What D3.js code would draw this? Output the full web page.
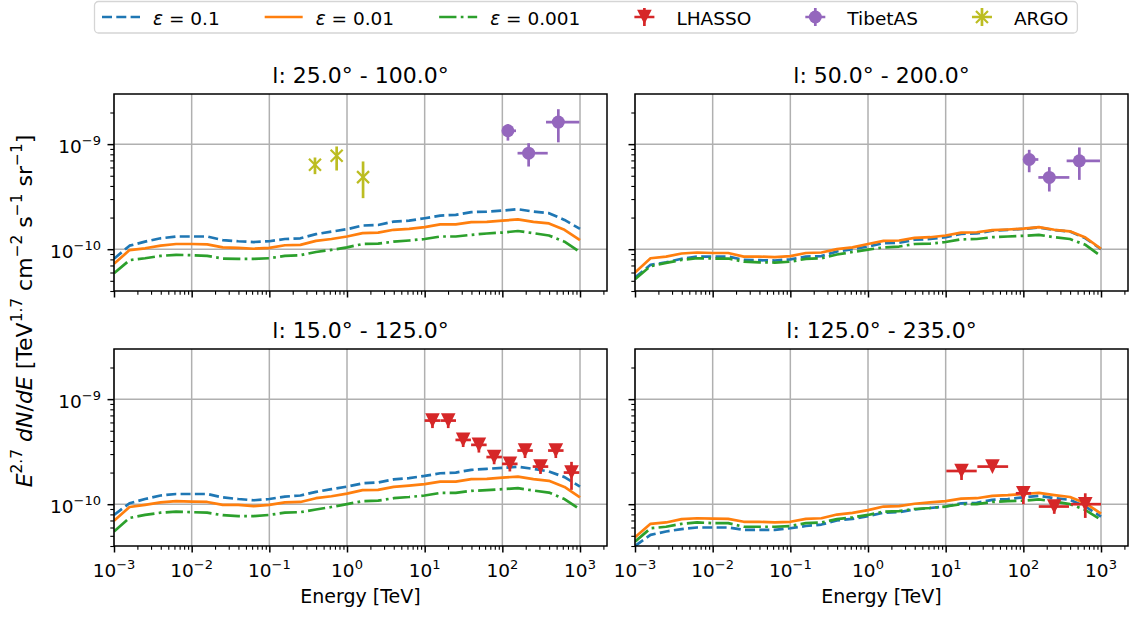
<!DOCTYPE html>
<html>
<head>
<meta charset="utf-8">
<script src="https://cdn.jsdelivr.net/npm/d3@7"></script>
<style>
  body { margin: 0; background: #fff; }
  svg { font-family: "DejaVu Sans", sans-serif; }
</style>
</head>
<body>
<svg id="chart" width="1129" height="619"></svg>
<script>
// ---------------------------------------------------------------------------
// Data

const energy = [0.001, 0.001585, 0.002512, 0.003981, 0.00631, 0.01, 0.01585, 0.02512, 0.03981, 0.0631,
  0.1, 0.1585, 0.2512, 0.3981, 0.631, 1, 1.585, 2.512, 3.981, 6.31,
  10, 15.85, 25.12, 39.81, 63.1, 100, 158.5, 251.2, 398.1, 631, 1000];

const panelTitles = ["l: 25.0° - 100.0°", "l: 50.0° - 200.0°", "l: 15.0° - 125.0°", "l: 125.0° - 235.0°"];
const seriesLabels = ["0.1", "0.01", "0.001"];

// l: 25 - 100
const p1Eps1 = [8.1e-11, 1.08e-10, 1.18e-10, 1.27e-10, 1.32e-10, 1.32e-10, 1.32e-10, 1.22e-10, 1.19e-10, 1.17e-10, 1.19e-10, 1.25e-10, 1.27e-10, 1.39e-10, 1.47e-10, 1.55e-10, 1.68e-10, 1.70e-10, 1.83e-10, 1.87e-10, 1.97e-10, 2.09e-10, 2.12e-10, 2.25e-10, 2.28e-10, 2.33e-10, 2.40e-10, 2.28e-10, 2.20e-10, 1.90e-10, 1.56e-10];
const p1Eps2 = [7.25e-11, 9.8e-11, 1.02e-10, 1.08e-10, 1.12e-10, 1.12e-10, 1.11e-10, 1.04e-10, 1.03e-10, 1.01e-10, 1.03e-10, 1.09e-10, 1.10e-10, 1.20e-10, 1.25e-10, 1.32e-10, 1.42e-10, 1.44e-10, 1.53e-10, 1.56e-10, 1.62e-10, 1.72e-10, 1.72e-10, 1.81e-10, 1.82e-10, 1.87e-10, 1.92e-10, 1.82e-10, 1.76e-10, 1.53e-10, 1.22e-10];
const p1Eps3 = [5.9e-11, 7.86e-11, 8.2e-11, 8.64e-11, 8.83e-11, 8.77e-11, 8.64e-11, 8.15e-11, 8.1e-11, 8.1e-11, 8.2e-11, 8.64e-11, 8.77e-11, 9.4e-11, 9.85e-11, 1.04e-10, 1.12e-10, 1.13e-10, 1.18e-10, 1.21e-10, 1.25e-10, 1.32e-10, 1.32e-10, 1.37e-10, 1.41e-10, 1.44e-10, 1.49e-10, 1.42e-10, 1.35e-10, 1.18e-10, 9.4e-11];

// l: 50 - 200
const p2Eps1 = [5.37e-11, 7.1e-11, 7.5e-11, 8.1e-11, 8.5e-11, 8.5e-11, 8.5e-11, 7.9e-11, 7.86e-11, 7.8e-11, 8.0e-11, 8.5e-11, 8.6e-11, 9.5e-11, 1.0e-10, 1.06e-10, 1.14e-10, 1.15e-10, 1.23e-10, 1.25e-10, 1.30e-10, 1.40e-10, 1.41e-10, 1.50e-10, 1.53e-10, 1.56e-10, 1.61e-10, 1.52e-10, 1.47e-10, 1.27e-10, 1.0e-10];
const p2Eps2 = [6.0e-11, 8.2e-11, 8.5e-11, 9.1e-11, 9.3e-11, 9.2e-11, 9.2e-11, 8.5e-11, 8.5e-11, 8.4e-11, 8.6e-11, 9.2e-11, 9.3e-11, 1.0e-10, 1.04e-10, 1.12e-10, 1.2e-10, 1.21e-10, 1.28e-10, 1.30e-10, 1.35e-10, 1.44e-10, 1.45e-10, 1.52e-10, 1.54e-10, 1.57e-10, 1.62e-10, 1.53e-10, 1.48e-10, 1.29e-10, 1.01e-10];
const p2Eps3 = [5.18e-11, 6.9e-11, 7.4e-11, 7.9e-11, 8.2e-11, 8.15e-11, 8.15e-11, 7.6e-11, 7.5e-11, 7.46e-11, 7.6e-11, 8.1e-11, 8.2e-11, 8.9e-11, 9.4e-11, 9.9e-11, 1.04e-10, 1.06e-10, 1.12e-10, 1.13e-10, 1.17e-10, 1.24e-10, 1.25e-10, 1.30e-10, 1.32e-10, 1.34e-10, 1.37e-10, 1.30e-10, 1.25e-10, 1.10e-10, 8.6e-11];

// l: 15 - 125
const p3Eps1 = [7.9e-11, 1.02e-10, 1.12e-10, 1.21e-10, 1.25e-10, 1.25e-10, 1.25e-10, 1.16e-10, 1.12e-10, 1.09e-10, 1.12e-10, 1.18e-10, 1.21e-10, 1.31e-10, 1.39e-10, 1.47e-10, 1.58e-10, 1.61e-10, 1.72e-10, 1.77e-10, 1.86e-10, 1.97e-10, 2.0e-10, 2.12e-10, 2.17e-10, 2.22e-10, 2.27e-10, 2.17e-10, 2.05e-10, 1.81e-10, 1.47e-10];
const p3Eps2 = [6.94e-11, 9.4e-11, 9.85e-11, 1.04e-10, 1.07e-10, 1.06e-10, 1.05e-10, 9.85e-11, 9.85e-11, 9.6e-11, 9.85e-11, 1.04e-10, 1.05e-10, 1.14e-10, 1.19e-10, 1.26e-10, 1.36e-10, 1.37e-10, 1.46e-10, 1.50e-10, 1.55e-10, 1.64e-10, 1.64e-10, 1.73e-10, 1.74e-10, 1.79e-10, 1.83e-10, 1.73e-10, 1.67e-10, 1.46e-10, 1.16e-10];
const p3Eps3 = [5.5e-11, 7.4e-11, 7.9e-11, 8.3e-11, 8.5e-11, 8.4e-11, 8.3e-11, 7.86e-11, 7.7e-11, 7.7e-11, 7.9e-11, 8.3e-11, 8.4e-11, 8.9e-11, 9.4e-11, 1.0e-10, 1.07e-10, 1.08e-10, 1.14e-10, 1.17e-10, 1.21e-10, 1.28e-10, 1.28e-10, 1.34e-10, 1.36e-10, 1.39e-10, 1.42e-10, 1.35e-10, 1.29e-10, 1.12e-10, 8.9e-11];

// l: 125 - 235
const p4Eps1 = [4.0e-11, 5.1e-11, 5.5e-11, 5.8e-11, 6.0e-11, 6.0e-11, 6.0e-11, 5.7e-11, 5.7e-11, 5.7e-11, 5.9e-11, 6.2e-11, 6.4e-11, 7.0e-11, 7.25e-11, 7.7e-11, 8.3e-11, 8.4e-11, 8.9e-11, 9.2e-11, 9.5e-11, 1.02e-10, 1.03e-10, 1.10e-10, 1.12e-10, 1.16e-10, 1.20e-10, 1.14e-10, 1.10e-10, 9.5e-11, 7.6e-11];
const p4Eps2 = [4.85e-11, 6.5e-11, 6.7e-11, 7.2e-11, 7.35e-11, 7.3e-11, 7.25e-11, 6.8e-11, 6.8e-11, 6.7e-11, 6.8e-11, 7.25e-11, 7.35e-11, 7.97e-11, 8.27e-11, 8.77e-11, 9.5e-11, 9.6e-11, 1.01e-10, 1.04e-10, 1.07e-10, 1.13e-10, 1.14e-10, 1.20e-10, 1.22e-10, 1.25e-10, 1.28e-10, 1.22e-10, 1.17e-10, 1.02e-10, 8.15e-11];
const p4Eps3 = [4.4e-11, 5.9e-11, 6.1e-11, 6.5e-11, 6.7e-11, 6.6e-11, 6.6e-11, 6.1e-11, 6.1e-11, 6.1e-11, 6.2e-11, 6.6e-11, 6.7e-11, 7.2e-11, 7.5e-11, 7.9e-11, 8.5e-11, 8.6e-11, 9.0e-11, 9.2e-11, 9.5e-11, 1.0e-10, 1.0e-10, 1.05e-10, 1.07e-10, 1.08e-10, 1.11e-10, 1.06e-10, 1.0e-10, 8.8e-11, 7.1e-11];

// ARGO (panel l: 25 - 100)
const argoE = [0.387, 0.736, 1.61];
const argoF = [6.36e-10, 7.74e-10, 4.85e-10];
const argoFlo = [5.18e-10, 5.61e-10, 3.06e-10];
const argoFhi = [7.46e-10, 9.5e-10, 6.84e-10];

// TibetAS (panels l: 25 - 100 and l: 50 - 200)
const tibet1E = [118, 218, 526];
const tibet1Elo = [101, 157, 365];
const tibet1Ehi = [150, 384, 980];
const tibet1F = [1.34e-9, 8.2e-10, 1.62e-9];
const tibet1Flo = [1.08e-9, 6.12e-10, 1.04e-9];
const tibet1Fhi = [1.55e-9, 1.02e-9, 2.15e-9];

const tibet2E = [119, 216, 526];
const tibet2Elo = [100, 156, 361];
const tibet2Ehi = [156, 391, 970];
const tibet2F = [7.14e-10, 4.82e-10, 6.93e-10];
const tibet2Flo = [5.4e-10, 3.54e-10, 4.57e-10];
const tibet2Fhi = [8.83e-10, 6.04e-10, 9.3e-10];

// LHASSO (panels l: 15 - 125 and l: 125 - 235)
const lhasso3E = [12.6, 20.1, 31.3, 49.9, 78.4, 125, 196, 310, 488, 777];
const lhasso3Elo = [10.0, 16.0, 24.9, 39.6, 62.3, 99, 156, 246, 388, 617];
const lhasso3Ehi = [15.9, 25.3, 39.4, 62.8, 98.7, 157, 247, 390, 614, 978];
const lhasso3F = [6.25e-10, 6.25e-10, 4.09e-10, 3.67e-10, 2.81e-10, 2.42e-10, 3.24e-10, 2.28e-10, 3.24e-10, 2.0e-10];
const lhasso3Flo = [5.3e-10, 5.3e-10, 3.5e-10, 3.1e-10, 2.4e-10, 2.05e-10, 2.75e-10, 1.94e-10, 2.75e-10, 1.37e-10];
const lhasso3Fhi = [6.9e-10, 6.9e-10, 4.5e-10, 4.0e-10, 3.1e-10, 2.65e-10, 3.55e-10, 2.5e-10, 3.55e-10, 2.53e-10];

const lhasso4E = [16, 40, 100, 250, 627];
const lhasso4Elo = [10.2, 25.6, 80, 158, 410];
const lhasso4Ehi = [25.1, 63.7, 126, 387, 1000];
const lhasso4F = [2.07e-10, 2.28e-10, 1.27e-10, 9.5e-11, 1.0e-10];
const lhasso4Flo = [1.70e-10, 2.1e-10, 1.0e-10, 8.1e-11, 7.4e-11];
const lhasso4Fhi = [2.3e-10, 2.45e-10, 1.47e-10, 1.08e-10, 1.27e-10];

// ---------------------------------------------------------------------------
// Layout / style

const PW = 493, PH = 197;
const panelPos = [[114, 94], [635, 94], [114, 349], [635, 349]];
const colors = { blue: "#1f77b4", orange: "#ff7f0e", green: "#2ca02c", red: "#d62728", purple: "#9467bd", olive: "#bcbd22" };
const LW = 2.7;
const curveStyles = [
  { color: colors.blue, dash: "10,4.3" },
  { color: colors.orange, dash: null },
  { color: colors.green, dash: "17.3,4.3,2.7,4.3" }
];

const svg = d3.select("#chart");

const x = d3.scaleLog().domain([1e-3, 2226]).range([0, PW]);
const y = d3.scaleLog().domain([4e-11, 3e-9]).range([PH, 0]);

const xMajor = [1e-3, 1e-2, 1e-1, 1, 10, 100, 1000];
const yMajor = [1e-10, 1e-9];
const xMinor = [];
for (let p = -3; p <= 3; p++) for (let m = 2; m <= 9; m++) {
  const v = m * Math.pow(10, p);
  if (v <= x.domain()[1]) xMinor.push(v);
}
const yMinor = [];
for (let p = -11; p <= -9; p++) for (let m = 2; m <= 9; m++) {
  const v = m * Math.pow(10, p);
  if (v >= y.domain()[0] && v <= y.domain()[1]) yMinor.push(v);
}

svg.append("defs").append("clipPath").attr("id", "plotclip")
  .append("rect").attr("width", PW).attr("height", PH);

const zipPts = (xs, fs, flo, fhi, elo, ehi) => xs.map((e, i) => ({
  e, f: fs[i], flo: flo[i], fhi: fhi[i],
  elo: elo ? elo[i] : null, ehi: ehi ? ehi[i] : null
}));

const panels = [
  { curves: [p1Eps1, p1Eps2, p1Eps3],
    tibet: zipPts(tibet1E, tibet1F, tibet1Flo, tibet1Fhi, tibet1Elo, tibet1Ehi),
    argo: zipPts(argoE, argoF, argoFlo, argoFhi) },
  { curves: [p2Eps1, p2Eps2, p2Eps3],
    tibet: zipPts(tibet2E, tibet2F, tibet2Flo, tibet2Fhi, tibet2Elo, tibet2Ehi) },
  { curves: [p3Eps1, p3Eps2, p3Eps3],
    lhasso: zipPts(lhasso3E, lhasso3F, lhasso3Flo, lhasso3Fhi, lhasso3Elo, lhasso3Ehi) },
  { curves: [p4Eps1, p4Eps2, p4Eps3],
    lhasso: zipPts(lhasso4E, lhasso4F, lhasso4Flo, lhasso4Fhi, lhasso4Elo, lhasso4Ehi) }
];

// "10^n" label built from tspans
function powLabel(sel, exp) {
  sel.append("tspan").text("10");
  sel.append("tspan").attr("dy", -8.3).attr("font-size", 13)
    .text(exp < 0 ? "\u2212" + (-exp) : String(exp));
}

function triDown(s) {
  return `M${-s},${-s}L${s},${-s}L0,${s}Z`;
}

function drawErrorbars(g, pts, color) {
  const eb = g.append("g").attr("stroke", color).attr("stroke-width", LW);
  eb.selectAll("line.v").data(pts).join("line")
    .attr("x1", d => x(d.e)).attr("x2", d => x(d.e))
    .attr("y1", d => y(d.flo)).attr("y2", d => y(d.fhi));
  eb.selectAll("line.h").data(pts.filter(d => d.elo !== null)).join("line")
    .attr("x1", d => x(d.elo)).attr("x2", d => x(d.ehi))
    .attr("y1", d => y(d.f)).attr("y2", d => y(d.f));
}

panels.forEach((p, idx) => {
  const [left, top] = panelPos[idx];
  const isBottom = idx >= 2, isLeft = idx % 2 === 0;
  const g = svg.append("g").attr("transform", `translate(${left},${top})`);

  // grid
  g.append("g").selectAll("line").data(xMajor).join("line")
    .attr("x1", d => x(d)).attr("x2", d => x(d)).attr("y1", 0).attr("y2", PH)
    .attr("stroke", "#b0b0b0").attr("stroke-width", 1.5);
  g.append("g").selectAll("line").data(yMajor).join("line")
    .attr("y1", d => y(d)).attr("y2", d => y(d)).attr("x1", 0).attr("x2", PW)
    .attr("stroke", "#b0b0b0").attr("stroke-width", 1.5);

  // model curves
  const line = d3.line().x(d => x(d[0])).y(d => y(d[1]));
  const cg = g.append("g").attr("clip-path", "url(#plotclip)");
  p.curves.forEach((vals, k) => {
    cg.append("path")
      .attr("d", line(d3.zip(energy, vals)))
      .attr("fill", "none")
      .attr("stroke", curveStyles[k].color)
      .attr("stroke-width", LW)
      .attr("stroke-dasharray", curveStyles[k].dash)
      .attr("stroke-linejoin", "round");
  });

  // measurements
  if (p.lhasso) {
    drawErrorbars(g, p.lhasso, colors.red);
    g.append("g").selectAll("path").data(p.lhasso).join("path")
      .attr("d", triDown(7.3))
      .attr("transform", d => `translate(${x(d.e)},${y(d.f)})`)
      .attr("fill", colors.red);
  }
  if (p.tibet) {
    drawErrorbars(g, p.tibet, colors.purple);
    g.append("g").selectAll("circle").data(p.tibet).join("circle")
      .attr("cx", d => x(d.e)).attr("cy", d => y(d.f)).attr("r", 6.5)
      .attr("fill", colors.purple);
  }
  if (p.argo) {
    drawErrorbars(g, p.argo, colors.olive);
    g.append("g").selectAll("path").data(p.argo).join("path")
      .attr("d", "M-6,-6L6,6M-6,6L6,-6")
      .attr("transform", d => `translate(${x(d.e)},${y(d.f)})`)
      .attr("stroke", colors.olive).attr("stroke-width", 2.2);
  }

  // ticks
  const tickStyle = (s, w) => { s.select(".domain").remove(); s.selectAll("line").attr("stroke-width", w); };
  g.append("g").attr("transform", `translate(0,${PH})`)
    .call(d3.axisBottom(x).tickValues(xMajor).tickSize(6.5).tickFormat(""))
    .call(s => tickStyle(s, 1.5));
  g.append("g").attr("transform", `translate(0,${PH})`)
    .call(d3.axisBottom(x).tickValues(xMinor).tickSize(3.7).tickFormat(""))
    .call(s => tickStyle(s, 1.1));
  g.append("g")
    .call(d3.axisLeft(y).tickValues(yMajor).tickSize(6.5).tickFormat(""))
    .call(s => tickStyle(s, 1.5));
  g.append("g")
    .call(d3.axisLeft(y).tickValues(yMinor).tickSize(3.7).tickFormat(""))
    .call(s => tickStyle(s, 1.1));

  // spines
  g.append("rect").attr("width", PW).attr("height", PH)
    .attr("fill", "none").attr("stroke", "#000").attr("stroke-width", 1.5);

  // title
  g.append("text").attr("x", PW / 2).attr("y", -11)
    .attr("text-anchor", "middle").attr("font-size", 22).attr("fill", "#000")
    .text(panelTitles[idx]);

  if (isBottom) {
    xMajor.forEach(v => {
      g.append("text").attr("x", x(v)).attr("y", PH + 31)
        .attr("text-anchor", "middle").attr("font-size", 18.5)
        .call(powLabel, Math.round(Math.log10(v)));
    });
    g.append("text").attr("x", PW / 2).attr("y", PH + 57)
      .attr("text-anchor", "middle").attr("font-size", 19)
      .text("Energy [TeV]");
  }
  if (isLeft) {
    yMajor.forEach(v => {
      g.append("text").attr("x", -13).attr("y", y(v) + 9)
        .attr("text-anchor", "end").attr("font-size", 18.5)
        .call(powLabel, Math.round(Math.log10(v)));
    });
  }
});

// y-axis label
const ylab = svg.append("text")
  .attr("transform", "translate(32,311) rotate(-90)")
  .attr("text-anchor", "middle").attr("font-size", 22);
const ylabParts = [
  { t: "E", it: true }, { t: "2.7", sup: true }, { t: " " }, { t: "dN", it: true }, { t: "/" },
  { t: "dE", it: true }, { t: " [TeV" }, { t: "1.7", sup: true }, { t: " cm" }, { t: "\u22122", sup: true },
  { t: " s" }, { t: "\u22121", sup: true }, { t: " sr" }, { t: "\u22121", sup: true }, { t: "]" }
];
let shifted = false;
ylabParts.forEach(part => {
  const ts = ylab.append("tspan").text(part.t);
  if (part.it) ts.attr("font-style", "italic");
  if (part.sup) { ts.attr("font-size", 15.4).attr("dy", -9.9); shifted = true; }
  else if (shifted) { ts.attr("dy", 9.9); shifted = false; }
});

// ---------------------------------------------------------------------------
// Legend

const legendItems = [
  { kind: "line", style: curveStyles[0], eps: seriesLabels[0] },
  { kind: "line", style: curveStyles[1], eps: seriesLabels[1] },
  { kind: "line", style: curveStyles[2], eps: seriesLabels[2] },
  { kind: "lhasso", label: "LHASSO" },
  { kind: "tibet", label: "TibetAS" },
  { kind: "argo", label: "ARGO" }
];

const legend = svg.append("g");
const frame = legend.append("rect").attr("x", 94.5).attr("y", 1.5).attr("height", 31.5).attr("rx", 4)
  .attr("fill", "#fff").attr("stroke", "#d5d5d5").attr("stroke-width", 1.3);

const HL = 38, HPAD = 13, GAP = 45, LY = 17;
let cx = 102;
legendItems.forEach(it => {
  const mid = cx + HL / 2;
  if (it.kind === "line") {
    legend.append("line").attr("x1", cx).attr("x2", cx + HL).attr("y1", LY).attr("y2", LY)
      .attr("stroke", it.style.color).attr("stroke-width", LW)
      .attr("stroke-dasharray", it.style.dash);
  } else {
    const col = it.kind === "lhasso" ? colors.red : it.kind === "tibet" ? colors.purple : colors.olive;
    legend.append("path").attr("d", `M${mid},${LY - 9}V${LY + 9}M${mid - 10},${LY}H${mid + 10}`)
      .attr("stroke", col).attr("stroke-width", LW);
    if (it.kind === "lhasso") {
      legend.append("path").attr("d", triDown(7.3)).attr("transform", `translate(${mid},${LY})`).attr("fill", col);
    } else if (it.kind === "tibet") {
      legend.append("circle").attr("cx", mid).attr("cy", LY).attr("r", 6.5).attr("fill", col);
    } else {
      legend.append("path").attr("d", "M-6,-6L6,6M-6,6L6,-6").attr("transform", `translate(${mid},${LY})`)
        .attr("stroke", col).attr("stroke-width", 2.2);
    }
  }
  const txt = legend.append("text").attr("x", cx + HL + HPAD).attr("y", 24.5).attr("font-size", 18.5);
  if (it.eps) {
    txt.append("tspan").attr("font-style", "italic").text("\u03b5");
    txt.append("tspan").text(" = " + it.eps);
  } else {
    txt.text(it.label);
  }
  const w = txt.node().getComputedTextLength();
  cx = cx + HL + HPAD + w + GAP;
});
frame.attr("width", cx - GAP + 9 - 94.5);
</script>
</body>
</html>
